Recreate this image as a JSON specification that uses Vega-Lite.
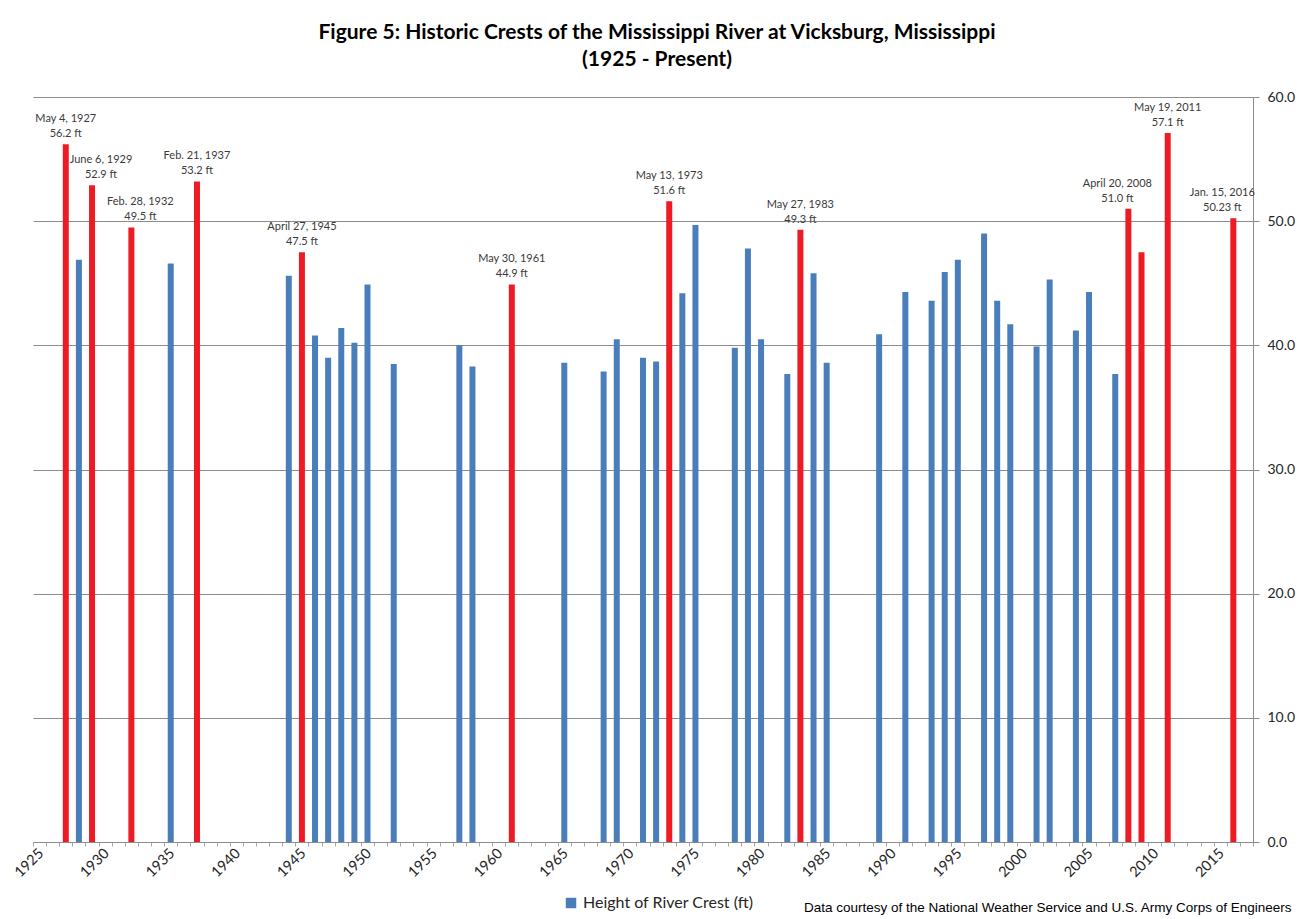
{
  "$schema": "https://vega.github.io/schema/vega-lite/v6.json",
  "autosize": {"type": "none"},
  "padding": {"left": 33, "top": 97, "right": 60, "bottom": 77},
  "width": 1220,
  "height": 745,
  "background": "white",
  "title": {
    "text": "Figure 5: Historic Crests of the Mississippi River at Vicksburg, Mississippi",
    "subtitle": "(1925 - Present)",
    "font": "Lato", "fontSize": 21, "fontWeight": "bold", "color": "#000000",
    "subtitleFont": "Lato", "subtitleFontSize": 21, "subtitleFontWeight": "bold", "subtitleColor": "#000000",
    "subtitlePadding": 6, "anchor": "middle", "offset": 20, "dx": 14
  },
  "config": {
    "view": {"stroke": null},
    "axis": {"labelFont": "Lato", "titleFont": "Liberation Sans"}
  },
  "data": {
    "values": [
      {"year": "1927", "height": 56.2, "series": "Record crest", "label": ["May 4, 1927", "56.2 ft"], "pos": "c"},
      {"year": "1928", "height": 46.9, "series": "Height of River Crest (ft)"},
      {"year": "1929", "height": 52.9, "series": "Record crest", "label": ["June 6, 1929", "52.9 ft"], "pos": "r"},
      {"year": "1932", "height": 49.5, "series": "Record crest", "label": ["Feb. 28, 1932", "49.5 ft"], "pos": "r"},
      {"year": "1935", "height": 46.6, "series": "Height of River Crest (ft)"},
      {"year": "1937", "height": 53.2, "series": "Record crest", "label": ["Feb. 21, 1937", "53.2 ft"], "pos": "c"},
      {"year": "1944", "height": 45.6, "series": "Height of River Crest (ft)"},
      {"year": "1945", "height": 47.5, "series": "Record crest", "label": ["April 27, 1945", "47.5 ft"], "pos": "c"},
      {"year": "1946", "height": 40.8, "series": "Height of River Crest (ft)"},
      {"year": "1947", "height": 39.0, "series": "Height of River Crest (ft)"},
      {"year": "1948", "height": 41.4, "series": "Height of River Crest (ft)"},
      {"year": "1949", "height": 40.2, "series": "Height of River Crest (ft)"},
      {"year": "1950", "height": 44.9, "series": "Height of River Crest (ft)"},
      {"year": "1952", "height": 38.5, "series": "Height of River Crest (ft)"},
      {"year": "1957", "height": 40.0, "series": "Height of River Crest (ft)"},
      {"year": "1958", "height": 38.3, "series": "Height of River Crest (ft)"},
      {"year": "1961", "height": 44.9, "series": "Record crest", "label": ["May 30, 1961", "44.9 ft"], "pos": "c"},
      {"year": "1965", "height": 38.6, "series": "Height of River Crest (ft)"},
      {"year": "1968", "height": 37.9, "series": "Height of River Crest (ft)"},
      {"year": "1969", "height": 40.5, "series": "Height of River Crest (ft)"},
      {"year": "1971", "height": 39.0, "series": "Height of River Crest (ft)"},
      {"year": "1972", "height": 38.7, "series": "Height of River Crest (ft)"},
      {"year": "1973", "height": 51.6, "series": "Record crest", "label": ["May 13, 1973", "51.6 ft"], "pos": "c"},
      {"year": "1974", "height": 44.2, "series": "Height of River Crest (ft)"},
      {"year": "1975", "height": 49.7, "series": "Height of River Crest (ft)"},
      {"year": "1978", "height": 39.8, "series": "Height of River Crest (ft)"},
      {"year": "1979", "height": 47.8, "series": "Height of River Crest (ft)"},
      {"year": "1980", "height": 40.5, "series": "Height of River Crest (ft)"},
      {"year": "1982", "height": 37.7, "series": "Height of River Crest (ft)"},
      {"year": "1983", "height": 49.3, "series": "Record crest", "label": ["May 27, 1983", "49.3 ft"], "pos": "c"},
      {"year": "1984", "height": 45.8, "series": "Height of River Crest (ft)"},
      {"year": "1985", "height": 38.6, "series": "Height of River Crest (ft)"},
      {"year": "1989", "height": 40.9, "series": "Height of River Crest (ft)"},
      {"year": "1991", "height": 44.3, "series": "Height of River Crest (ft)"},
      {"year": "1993", "height": 43.6, "series": "Height of River Crest (ft)"},
      {"year": "1994", "height": 45.9, "series": "Height of River Crest (ft)"},
      {"year": "1995", "height": 46.9, "series": "Height of River Crest (ft)"},
      {"year": "1997", "height": 49.0, "series": "Height of River Crest (ft)"},
      {"year": "1998", "height": 43.6, "series": "Height of River Crest (ft)"},
      {"year": "1999", "height": 41.7, "series": "Height of River Crest (ft)"},
      {"year": "2001", "height": 39.9, "series": "Height of River Crest (ft)"},
      {"year": "2002", "height": 45.3, "series": "Height of River Crest (ft)"},
      {"year": "2004", "height": 41.2, "series": "Height of River Crest (ft)"},
      {"year": "2005", "height": 44.3, "series": "Height of River Crest (ft)"},
      {"year": "2007", "height": 37.7, "series": "Height of River Crest (ft)"},
      {"year": "2008", "height": 51.0, "series": "Record crest", "label": ["April 20, 2008", "51.0 ft"], "pos": "l"},
      {"year": "2009", "height": 47.5, "series": "Record crest"},
      {"year": "2011", "height": 57.1, "series": "Record crest", "label": ["May 19, 2011", "57.1 ft"], "pos": "c"},
      {"year": "2016", "height": 50.23, "series": "Record crest", "label": ["Jan. 15, 2016", "50.23 ft"], "pos": "l"}
    ]
  },
  "encoding": {
    "x": {
      "field": "year", "type": "temporal", "timeUnit": "utcyear", "bandPosition": 0.5,
      "scale": {"domain": ["1925-01-01", "2018-01-01"], "nice": false},
      "axis": {
        "title": "Data courtesy of the National Weather Service and U.S. Army Corps of Engineers",
        "titleFont": "Liberation Sans", "titleFontSize": 13.5, "titleFontWeight": "normal", "titleColor": "#000000",
        "titleAnchor": "end", "titleAlign": "right", "titleBaseline": "middle", "titleX": 1258, "titleY": 65,
        "tickCount": {"interval": "year", "step": 1},
        "labelExpr": "utcyear(datum.value) % 5 === 0 ? utcFormat(datum.value, '%Y') : ''",
        "labelAngle": -45, "labelAlign": "right", "labelBaseline": "middle", "labelOffset": 8, "labelPadding": 5,
        "labelFontSize": 14.5, "labelColor": "#262626", "labelOverlap": false, "labelBound": false,
        "tickColor": "#a6a6a6", "tickSize": 4, "domainColor": "#8c8c8c", "grid": false
      }
    },
    "y": {
      "field": "height", "type": "quantitative",
      "scale": {"domain": [0, 60], "nice": false},
      "axis": {
        "orient": "right", "title": null, "values": [0, 10, 20, 30, 40, 50, 60], "format": ".1f",
        "labelFont": "Lato", "labelFontSize": 14, "labelColor": "#262626", "labelPadding": 8,
        "tickColor": "#8c8c8c", "tickSize": 6, "domainColor": "#8c8c8c",
        "grid": true, "gridColor": "#8c8c8c", "gridWidth": 1
      }
    }
  },
  "layer": [
    {
      "mark": {"type": "bar", "width": 6},
      "encoding": {
        "color": {
          "field": "series", "type": "nominal",
          "scale": {"domain": ["Height of River Crest (ft)", "Record crest"], "range": ["#4a7ebb", "#ed1c24"]},
          "legend": {
            "values": ["Height of River Crest (ft)"], "title": null, "orient": "none",
            "legendX": 530, "legendY": 798, "symbolType": "square", "symbolSize": 110,
            "symbolStrokeWidth": 0, "labelFont": "Lato", "labelFontSize": 16, "labelColor": "#262626", "labelLimit": 400
          }
        }
      }
    },
    {
      "transform": [{"filter": "datum.pos === 'c'"}],
      "mark": {"type": "text", "baseline": "bottom", "align": "center", "dy": -20, "font": "Lato", "fontSize": 11, "lineHeight": 15, "color": "#3a3a3a"},
      "encoding": {"text": {"field": "label"}}
    },
    {
      "transform": [{"filter": "datum.pos === 'r'"}],
      "mark": {"type": "text", "baseline": "bottom", "align": "center", "dy": -20, "dx": 9, "font": "Lato", "fontSize": 11, "lineHeight": 15, "color": "#3a3a3a"},
      "encoding": {"text": {"field": "label"}}
    },
    {
      "transform": [{"filter": "datum.pos === 'l'"}],
      "mark": {"type": "text", "baseline": "bottom", "align": "center", "dy": -20, "dx": -11, "font": "Lato", "fontSize": 11, "lineHeight": 15, "color": "#3a3a3a"},
      "encoding": {"text": {"field": "label"}}
    }
  ]
}
